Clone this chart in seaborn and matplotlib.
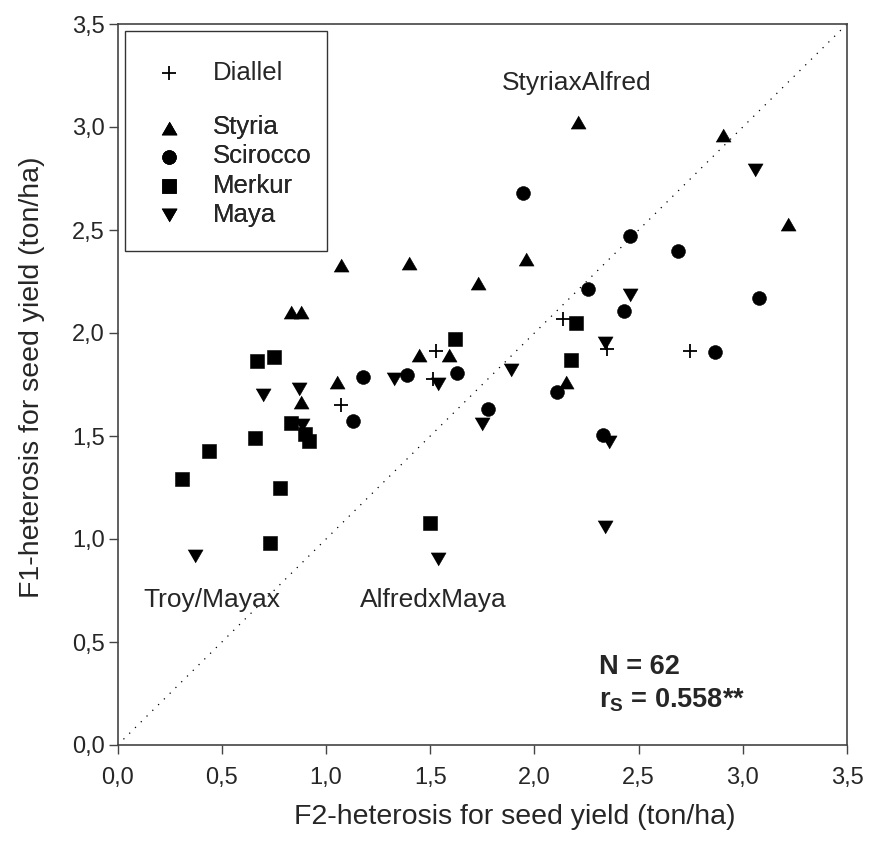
import matplotlib
matplotlib.use("Agg")
import matplotlib.pyplot as plt
import matplotlib.patches as mpatches
import seaborn as sns
import pandas as pd
import numpy as np

# ---------------- data ----------------
diallel_x = [1.07, 1.515, 1.527, 2.135, 2.346, 2.746]
diallel_y = [1.65, 1.777, 1.914, 2.066, 1.921, 1.913]

styria_x = [0.83, 0.878, 0.88, 1.051, 1.07, 1.399, 1.447, 1.59, 1.727, 1.958, 2.15, 2.207, 2.906, 3.218]
styria_y = [2.10, 2.10, 1.667, 1.764, 2.33, 2.338, 1.893, 1.893, 2.241, 2.358, 1.764, 3.026, 2.961, 2.529]

scirocco_x = [1.131, 1.179, 1.39, 1.627, 1.778, 1.946, 2.107, 2.255, 2.327, 2.428, 2.458, 2.687, 2.866, 3.077]
scirocco_y = [1.574, 1.788, 1.796, 1.804, 1.631, 2.678, 1.715, 2.212, 1.505, 2.107, 2.471, 2.398, 1.906, 2.171]

merkur_x = [0.31, 0.44, 0.659, 0.67, 0.731, 0.75, 0.779, 0.83, 0.899, 0.919, 1.499, 1.618, 2.175, 2.198]
merkur_y = [1.291, 1.427, 1.489, 1.864, 0.982, 1.885, 1.246, 1.565, 1.508, 1.477, 1.079, 1.969, 1.869, 2.05]

maya_x = [0.371, 0.699, 0.87, 0.883, 1.326, 1.538, 1.538, 1.747, 1.887, 2.338, 2.338, 2.359, 2.458, 3.058]
maya_y = [0.917, 1.699, 1.727, 1.553, 1.777, 1.752, 0.901, 1.558, 1.82, 1.95, 1.06, 1.472, 2.184, 2.79]

tick_values = [0.0, 0.5, 1.0, 1.5, 2.0, 2.5, 3.0, 3.5]
tick_labels = ["0,0", "0,5", "1,0", "1,5", "2,0", "2,5", "3,0", "3,5"]

x_label = "F2-heterosis for seed yield (ton/ha)"
y_label = "F1-heterosis for seed yield (ton/ha)"

# ---------------- style ----------------
sns.set_style("white")
plt.rcParams["font.family"] = ["Liberation Sans", "DejaVu Sans"]
plt.rcParams["mathtext.fontset"] = "custom"
plt.rcParams["mathtext.rm"] = "Liberation Sans"
plt.rcParams["mathtext.bf"] = "Liberation Sans:bold"

fig = plt.figure(figsize=(8.69, 8.58), dpi=100)
ax = fig.add_axes([117.7 / 869, 1 - 745 / 858, (847 - 117.7) / 869, (745 - 24) / 858])

up_tri = [(-1, -0.866), (1, -0.866), (0, 0.866)]
down_tri = [(-1, 0.866), (1, 0.866), (0, -0.866)]

groups = [
    ("Diallel", diallel_x, diallel_y, "+", 115),
    ("Styria", styria_x, styria_y, up_tri, 118),
    ("Scirocco", scirocco_x, scirocco_y, "o", 100),
    ("Merkur", merkur_x, merkur_y, "s", 92),
    ("Maya", maya_x, maya_y, down_tri, 118),
]

# diagonal 1:1 line
ax.plot([0, 3.5], [0, 3.5], color="black", lw=0.9, linestyle=(0, (1, 5.5)), zorder=1)

for name, xs, ys, mk, s in groups:
    df = pd.DataFrame({"F2": xs, "F1": ys})
    if mk == "+":
        sns.scatterplot(data=df, x="F2", y="F1", marker=mk, color="black", s=s,
                        linewidth=1.3, ax=ax, label=name, zorder=3)
    else:
        sns.scatterplot(data=df, x="F2", y="F1", marker=mk, color="black", s=s,
                        linewidth=0.4, edgecolor="black", ax=ax, label=name, zorder=3)

ax.set_xlim(0, 3.5)
ax.set_ylim(0, 3.5)
ax.set_xticks(tick_values)
ax.set_xticklabels(tick_labels)
ax.set_yticks(tick_values)
ax.set_yticklabels(tick_labels)
ax.tick_params(axis="both", direction="out", length=6.5, width=1, color="#444444",
               labelsize=17, left=True, bottom=True)
ax.tick_params(axis="x", pad=9)
ax.tick_params(axis="y", pad=3)

for sp in ax.spines.values():
    sp.set_color("#444444")
    sp.set_linewidth(1.2)

ax.set_xlabel(x_label, fontsize=20.5)
ax.set_ylabel(y_label, fontsize=20.5)
ax.xaxis.set_label_coords(0.545, -0.082)
ax.yaxis.set_label_coords(-0.099, 0.51)

# ---------------- legend ----------------
handles, labels = ax.get_legend_handles_labels()
ax.legend_ = None
common = dict(frameon=False, fontsize=18.5, handlelength=1.0, handletextpad=1.21,
              borderpad=0, borderaxespad=0, labelspacing=0.2, loc="center left",
              scatterpoints=1)
leg1 = ax.legend(handles[:1], labels[:1], bbox_to_anchor=(0.0528, (745 - 73) / 721), **common)
ax.add_artist(leg1)
leg2 = ax.legend(handles[1:], labels[1:], bbox_to_anchor=(0.0528, (745 - 171) / 721), **common)
ax.add_artist(leg2)

frame = mpatches.Rectangle((0.010, 0.685), 0.277, 0.305, transform=ax.transAxes,
                           fill=False, edgecolor="#333333", lw=1.0, zorder=5)
ax.add_patch(frame)

# ---------------- annotations ----------------
ax.text(2.203, 3.213, "StyriaxAlfred", fontsize=19, ha="center", va="center")
ax.text(0.122, 0.704, "Troy/Mayax", fontsize=19, ha="left", va="center")
ax.text(1.163, 0.704, "AlfredxMaya", fontsize=19, ha="left", va="center")
ax.text(2.31, 0.379, "N = 62", fontsize=19.5, fontweight="bold", ha="left", va="center")
ax.text(2.31, 0.218, r"r$_{\mathbf{S}}$ = 0.558**", fontsize=19.5, fontweight="bold",
        ha="left", va="center")

fig.savefig("out.png", dpi=100)
